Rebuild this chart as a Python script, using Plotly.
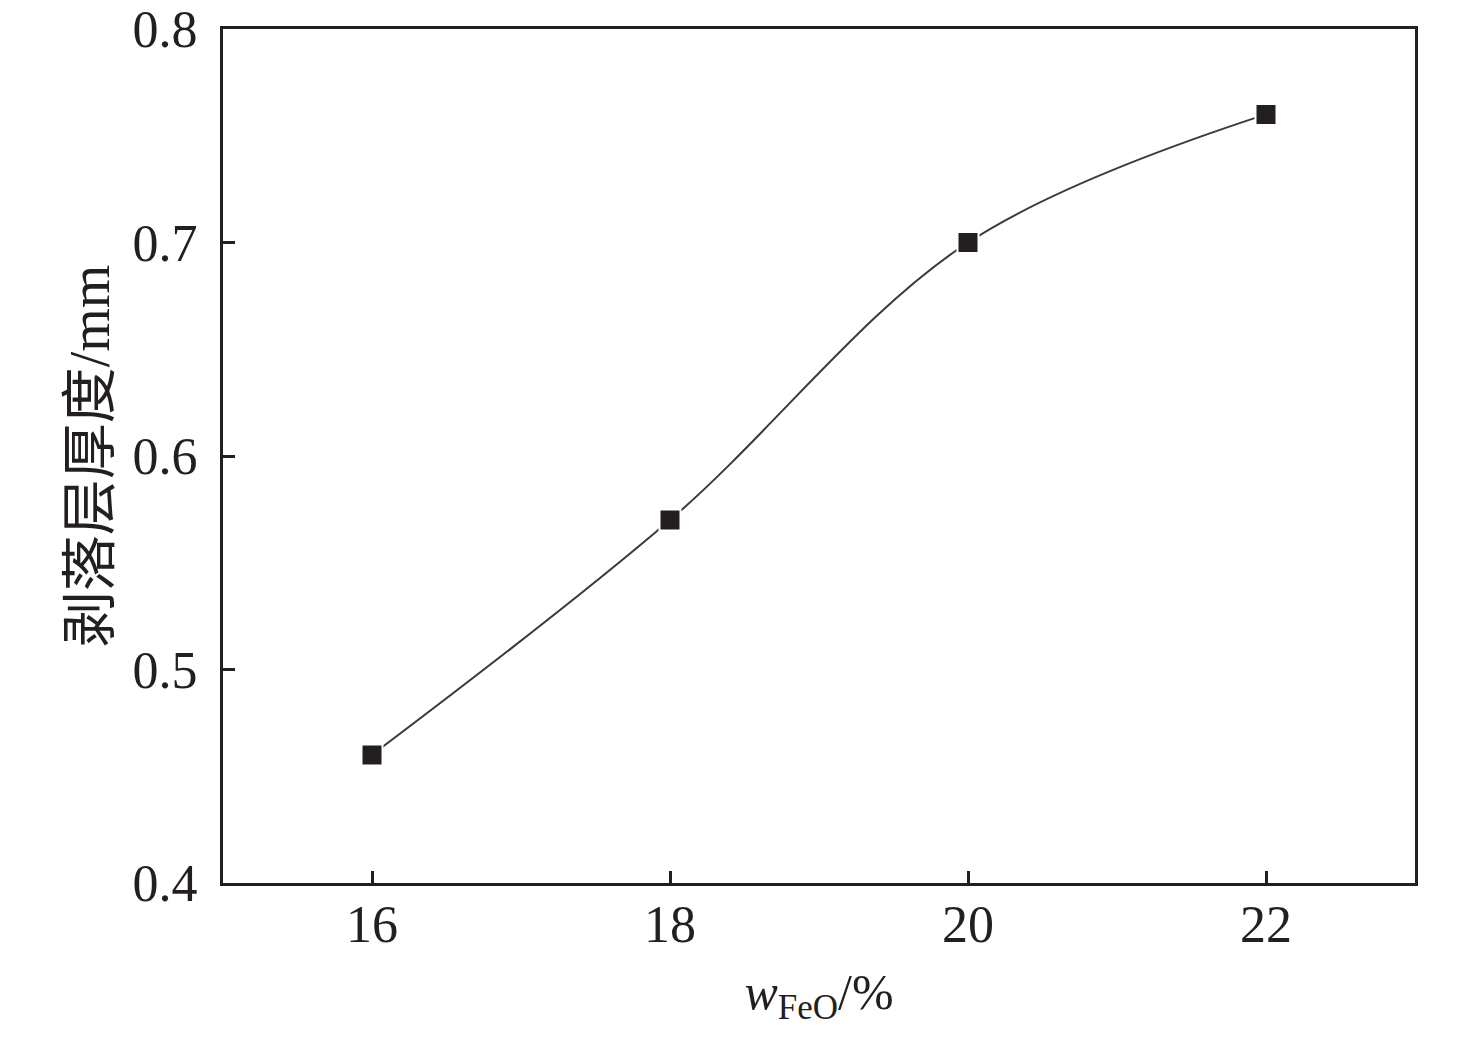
"""
Spalling layer thickness vs FeO content
"""

import plotly.graph_objects as go

feo_content = [16, 18, 20, 22]
spall_thickness = [0.46, 0.57, 0.70, 0.76]
x_ticks = [16, 18, 20, 22]
y_ticks = [0.4, 0.5, 0.6, 0.7, 0.8]

INK = "#231f20"
SERIF = "Liberation Serif, Times New Roman, Noto Sans CJK SC, serif"


def build_figure():
    """Build the line chart with square markers"""
    fig = go.Figure()

    fig.add_trace(
        go.Scatter(
            x=feo_content,
            y=spall_thickness,
            mode="lines+markers",
            line=dict(color="#3a3a3a", width=2, shape="spline", smoothing=1.0),
            marker=dict(symbol="square", size=21, color=INK, line=dict(color="white", width=2)),
            showlegend=False,
        )
    )

    axis_common = dict(
        showline=True,
        linecolor=INK,
        linewidth=3,
        mirror=True,
        ticks="inside",
        ticklen=12,
        tickwidth=3,
        tickcolor=INK,
        showgrid=False,
        zeroline=False,
        automargin=False,
        ticklabeloverflow="allow",
        tickfont=dict(family=SERIF, size=52, color=INK),
    )

    fig.update_xaxes(
        range=[15, 23],
        tickvals=x_ticks,
        ticklabelstandoff=-6,
        title=dict(
            text="<i>w</i><sub>FeO</sub>/%",
            font=dict(family=SERIF, size=50, color=INK),
            standoff=22,
        ),
        **axis_common,
    )
    fig.update_yaxes(
        range=[0.4, 0.8],
        tickvals=y_ticks,
        tickformat=".1f",
        ticklabelstandoff=12,
        title=dict(
            text="剥落层厚度/mm",
            font=dict(family=SERIF, size=56, color=INK),
            standoff=5,
        ),
        **axis_common,
    )

    fig.update_layout(
        width=1476,
        height=1040,
        margin=dict(l=215, r=69, t=21, b=165),
        plot_bgcolor="white",
        paper_bgcolor="white",
    )
    return fig


if __name__ == "__main__":
    fig = build_figure()
    fig.write_html("out.html")
